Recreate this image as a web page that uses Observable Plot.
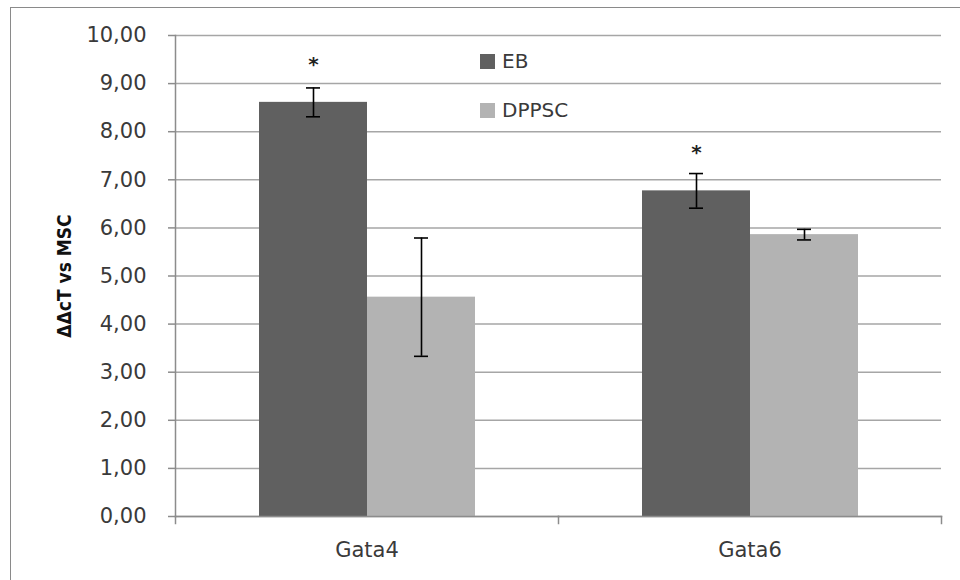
<!DOCTYPE html>
<html>
<head>
<meta charset="utf-8">
<script src="https://cdn.jsdelivr.net/npm/d3@7"></script>
<script src="https://cdn.jsdelivr.net/npm/@observablehq/plot@0.6"></script>
<style>
  html, body { margin: 0; padding: 0; background: #fff; }
  #wrap { position: relative; width: 960px; height: 580px; overflow: hidden; background: #fff; }
  #border { position: absolute; left: 10px; top: 7px; width: 960px; height: 600px; pointer-events: none;
            border-left: 1.5px solid #8a8a8a; border-top: 1.5px solid #8a8a8a; z-index: 5; }
  #chart { position: absolute; left: 0; top: 0; }
  #legend { position: absolute; left: 480px; top: 0; font-family: "DejaVu Sans", sans-serif;
            font-size: 20px; color: #3a3a3a; }
  .item { position: absolute; left: 0; display: flex; align-items: center; white-space: nowrap; }
  .sw { width: 15px; height: 15px; margin-right: 7px; }
</style>
</head>
<body>
<div id="wrap">
  <div id="chart"></div>
  <div id="legend"></div>
  <div id="border"></div>
</div>
<script>
const categories = ["Gata4", "Gata6"];
const series = ["EB", "DPPSC"];
const ebValues = [8.61, 6.77];
const ebErrors = [0.30, 0.36];
const dppscValues = [4.56, 5.86];
const dppscErrors = [1.23, 0.11];
const ebSignificance = ["*", "*"];
const dppscSignificance = ["", ""];
const yTicks = [0, 1, 2, 3, 4, 5, 6, 7, 8, 9, 10];
const yLabel = "ΔΔcT vs MSC";
const seriesColors = ["#606060", "#b3b3b3"];

const data = categories.flatMap((gene, i) => [
  {gene, series: "EB", value: ebValues[i], err: ebErrors[i], sig: ebSignificance[i]},
  {gene, series: "DPPSC", value: dppscValues[i], err: dppscErrors[i], sig: dppscSignificance[i]}
]);

const axisGray = "#8c8c8c";
const plotH = 580 - 35 - 64;

const chart = Plot.plot({
  width: 960,
  height: 580,
  marginLeft: 174,
  marginRight: 19,
  marginTop: 35,
  marginBottom: 64,
  style: {fontFamily: "DejaVu Sans, sans-serif", fontSize: "20px", color: "#3a3a3a", background: "transparent"},
  fx: {domain: categories, padding: 0, label: null, axis: null},
  x: {domain: series, paddingInner: 0, paddingOuter: 0.76, axis: null},
  y: {domain: [0, 10], axis: null},
  color: {domain: series, range: seriesColors},
  marks: [
    Plot.gridY(yTicks, {stroke: "#a6a6a6", strokeOpacity: 1, strokeWidth: 1.5}),
    Plot.barY(data, {fx: "gene", x: "series", y: "value", fill: "series"}),
    Plot.ruleX(data, {fx: "gene", x: "series", y1: d => d.value - d.err, y2: d => d.value + d.err, stroke: "#000", strokeWidth: 1.6}),
    Plot.tickY(data, {fx: "gene", x: "series", y: d => d.value + d.err, insetLeft: 47, insetRight: 47, stroke: "#000", strokeWidth: 1.6}),
    Plot.tickY(data, {fx: "gene", x: "series", y: d => d.value - d.err, insetLeft: 47, insetRight: 47, stroke: "#000", strokeWidth: 1.6}),
    Plot.text(data.filter(d => d.sig), {fx: "gene", x: "series", y: "value", text: "sig", dy: -38, fontSize: 20, fontWeight: "bold", fill: "#222"}),
    Plot.frame({anchor: "bottom", stroke: axisGray, strokeWidth: 1.5}),
    Plot.frame({anchor: "left", facetAnchor: "left", stroke: axisGray, strokeWidth: 1.5}),
    Plot.frame({anchor: "left", insetTop: plotH, insetBottom: -7, stroke: axisGray, strokeWidth: 1.5}),
    Plot.frame({anchor: "right", facetAnchor: "right", insetTop: plotH, insetBottom: -7, stroke: axisGray, strokeWidth: 1.5}),
    Plot.axisY(yTicks, {tickSize: 7, text: null, stroke: axisGray, strokeWidth: 1.5, label: null}),
    Plot.axisY(yTicks, {tickSize: 0, tickPadding: 29, tickFormat: d => d.toFixed(2).replace(".", ","), fill: "#3a3a3a", fontSize: 21, label: null}),
    Plot.axisFx({anchor: "bottom", tickSize: 0, tickPadding: 26, fontSize: 21, fill: "#3a3a3a", label: null}),
    Plot.text([yLabel], {frameAnchor: "left", facetAnchor: "left", rotate: -90, dx: -111, text: d => d, textAnchor: "middle",
      fontWeight: "bold", fontSize: 19, fontFamily: "DejaVu Sans Condensed, DejaVu Sans, sans-serif", fill: "#111"})
  ]
});
document.getElementById("chart").appendChild(chart);

const legend = document.getElementById("legend");
const tops = [61, 110];
series.forEach((s, i) => {
  const item = document.createElement("div");
  item.className = "item";
  item.style.top = (tops[i] - 12) + "px";
  item.style.height = "24px";
  const sw = document.createElement("span");
  sw.className = "sw";
  sw.style.background = seriesColors[i];
  const t = document.createElement("span");
  t.textContent = s;
  item.appendChild(sw);
  item.appendChild(t);
  legend.appendChild(item);
});
</script>
</body>
</html>
